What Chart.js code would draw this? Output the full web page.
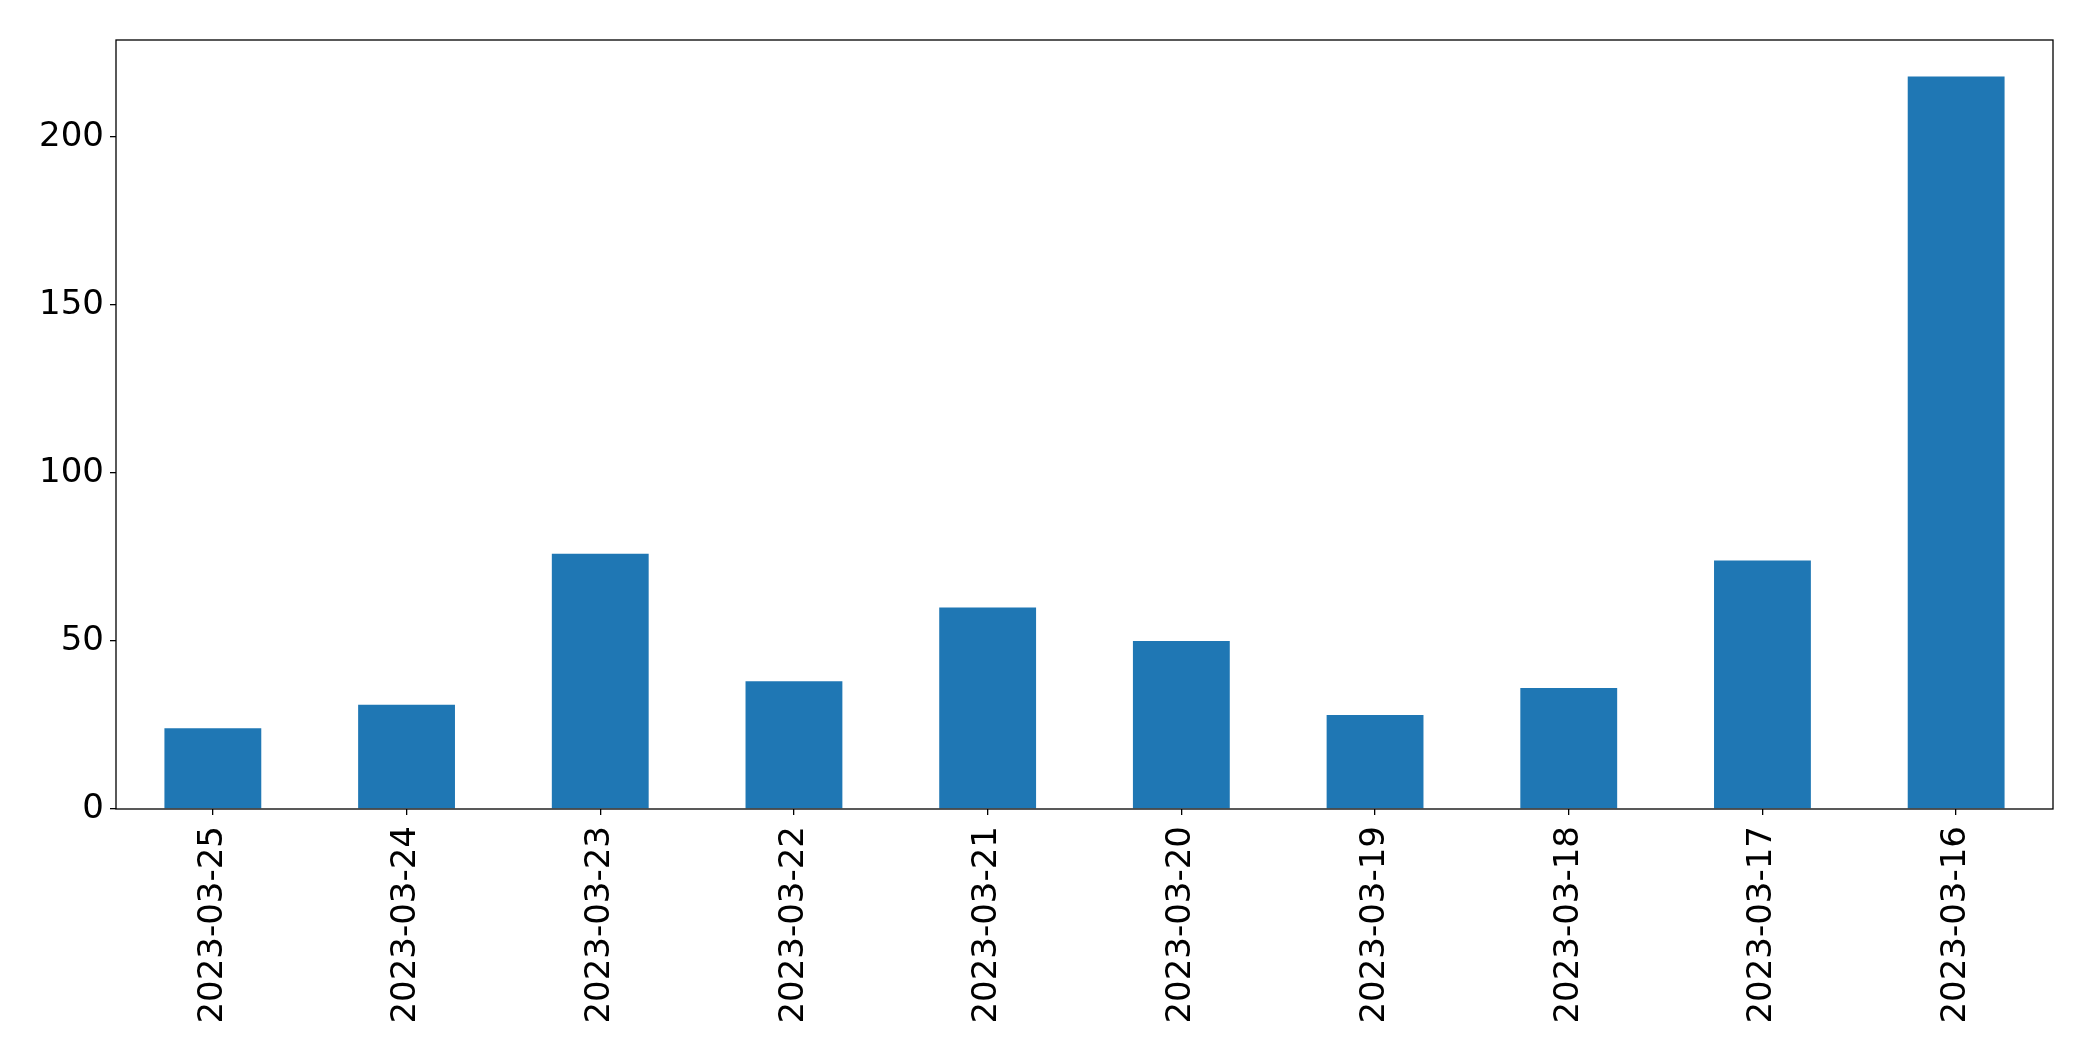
<!DOCTYPE html>
<html>
<head>
<meta charset="utf-8">
<script src="https://cdn.jsdelivr.net/npm/chart.js@4/dist/chart.umd.min.js"></script>
<style>
  html, body { margin: 0; padding: 0; background: #fff; }
  #wrap { width: 2093px; height: 1061px; }
</style>
</head>
<body>
<div id="wrap"><canvas id="myChart" width="2093" height="1061"></canvas></div>
<script>
// data
const dates = ["2023-03-25", "2023-03-24", "2023-03-23", "2023-03-22", "2023-03-21",
               "2023-03-20", "2023-03-19", "2023-03-18", "2023-03-17", "2023-03-16"];
const counts = [24, 31, 76, 38, 60, 50, 28, 36, 74, 218];
const yTicks = [0, 50, 100, 150, 200];
const yMax = 228.9;

const FONT = "'DejaVu Sans', sans-serif";

// draw the full black frame around the plot area (matplotlib style)
const frame = {
  id: "frame",
  afterDraw(chart) {
    let { ctx, chartArea } = chart;
    ctx.save();
    ctx.strokeStyle = "#000";
    ctx.lineWidth = 1.3;
    ctx.strokeRect(chartArea.left, chartArea.top,
      chartArea.right - chartArea.left, chartArea.bottom - chartArea.top);
    ctx.restore();
  }
};

var ctx = document.getElementById("myChart");
var myChart = new Chart(ctx, {
  type: "bar",
  data: {
    labels: dates,
    datasets: [{
      data: counts,
      backgroundColor: "#1f77b4",
      borderWidth: 0,
      categoryPercentage: 1.0,
      barPercentage: 0.5
    }]
  },
  options: {
    responsive: false,
    animation: false,
    devicePixelRatio: 1,
    layout: { padding: { left: 0, right: 40, top: 40, bottom: 0 } },
    plugins: { legend: { display: false }, tooltip: { enabled: false } },
    scales: {
      x: {
        offset: true,
        grid: { offset: false, drawOnChartArea: false, drawTicks: true, tickLength: 6, color: "#000", lineWidth: 1.3 },
        border: { display: false },
        ticks: {
          color: "#000",
          font: { family: FONT, size: 34 },
          minRotation: 90,
          maxRotation: 90,
          autoSkip: false,
          padding: 11
        },
        afterFit(scale) { scale.height = 252; }
      },
      y: {
        min: 0,
        max: yMax,
        afterBuildTicks(scale) { scale.ticks = yTicks.map(v => ({ value: v })); },
        grid: { drawOnChartArea: false, drawTicks: true, tickLength: 6, color: "#000", lineWidth: 1.3 },
        border: { display: false },
        ticks: {
          color: "#000",
          font: { family: FONT, size: 34 },
          padding: 6
        },
        afterFit(scale) { scale.width = 116; }
      }
    }
  },
  plugins: [frame]
});
</script>
</body>
</html>
